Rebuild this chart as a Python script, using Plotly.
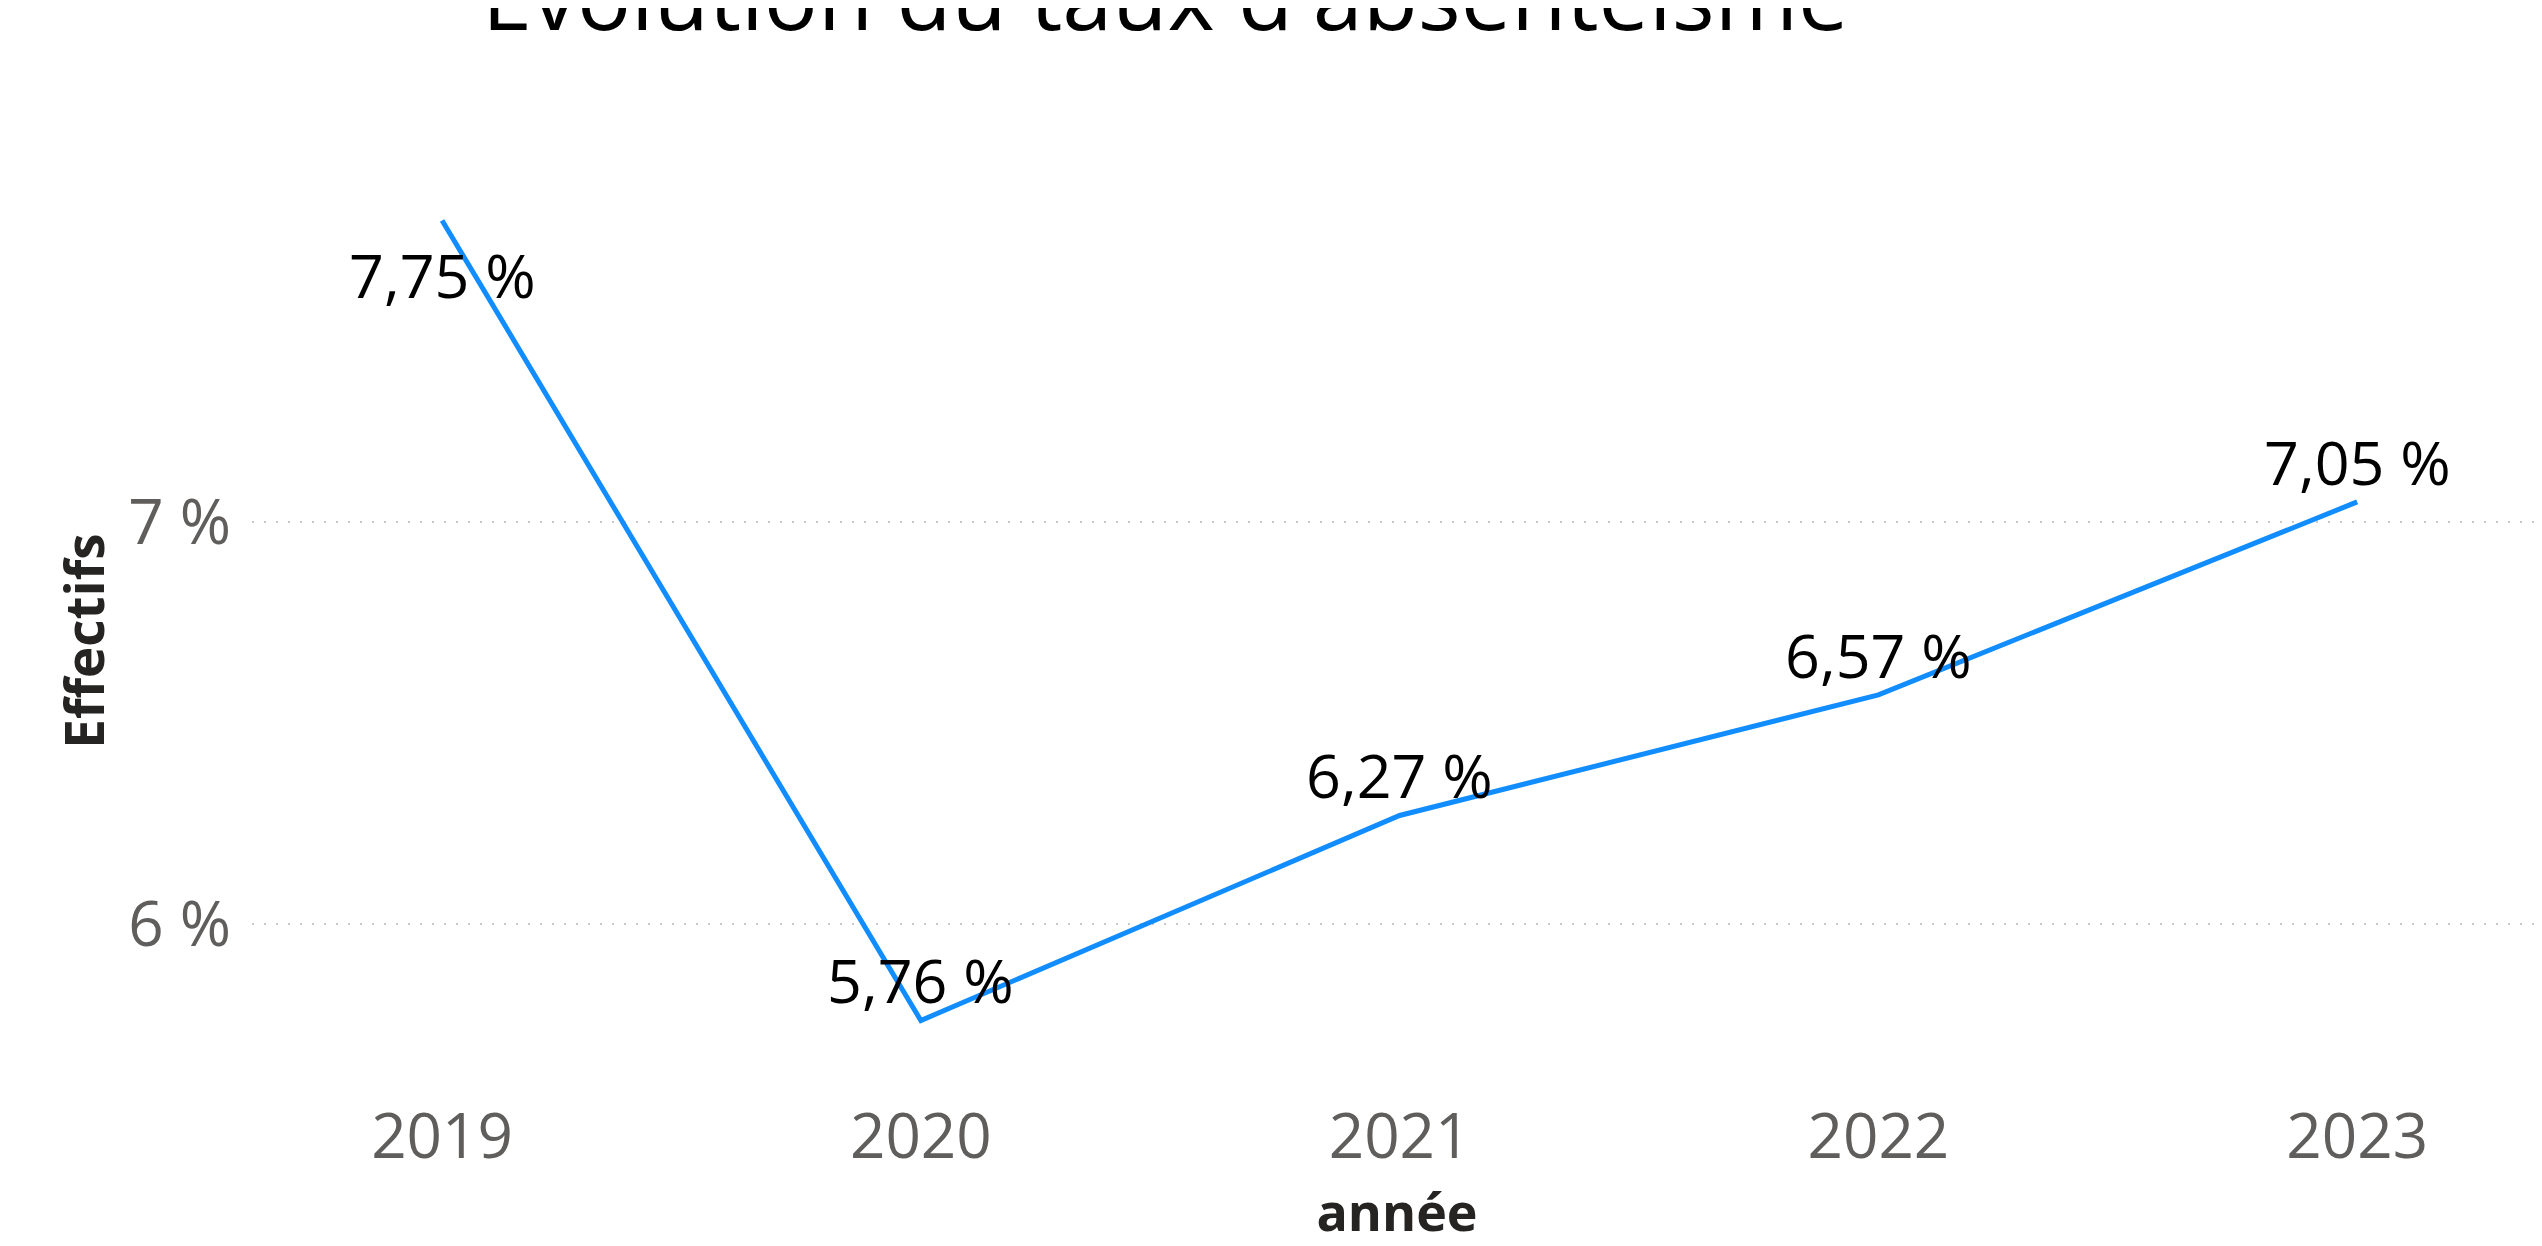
import plotly.graph_objects as go

# ---- data ----
years = [2019, 2020, 2021, 2022, 2023]
taux = [7.75, 5.76, 6.27, 6.57, 7.05]
label_side = ["below", "above", "above", "above", "above"]
y_tickvals = [6, 7]
y_ticktext = ["6 %", "7 %"]
title_text = "Évolution du taux d'absentéisme"
x_title = "année"
y_title = "Effectifs"

# page body has an 8px default margin -> figure is offset by 8px
W, H = 2534, 1238
ML, MR, MT, MB = 244, 0, 192, 164
FONT = "Segoe UI, Open Sans, sans-serif"

def fr(v):
    return f"{v:.2f}".replace(".", ",") + " %"

fig = go.Figure()
fig.add_trace(go.Scatter(
    x=years, y=taux, mode="lines",
    line=dict(color="#118DFF", width=5),
    cliponaxis=False, hoverinfo="x+y", showlegend=False,
))

annotations = []
for x, y, side in zip(years, taux, label_side):
    annotations.append(dict(
        x=x, y=y, xref="x", yref="y", text=fr(y), showarrow=False,
        xanchor="center",
        yanchor="bottom" if side == "above" else "top",
        yshift=-3 if side == "above" else -10,
        font=dict(family=FONT, size=61, color="#000000"),
    ))

annotations.append(dict(
    x=(1157 - ML) / (W - ML - MR), y=1, xref="paper", yref="paper",
    text=title_text, showarrow=False, xanchor="center", yanchor="bottom",
    yshift=142, font=dict(family=FONT, size=90, color="#000000"),
))

fig.update_layout(
    width=W, height=H,
    margin=dict(l=ML, r=MR, t=MT, b=MB, pad=0),
    paper_bgcolor="white", plot_bgcolor="white",
    font=dict(family=FONT),
    annotations=annotations,
    xaxis=dict(
        range=[2018.603, 2023.386], tickvals=years,
        ticktext=[str(y) for y in years],
        tickfont=dict(family=FONT, size=62, color="#605E5C"),
        ticklabelstandoff=13,
        showgrid=False, zeroline=False, showline=False, ticks="",
        title=dict(text=x_title, standoff=13,
                   font=dict(family=FONT, size=52, color="#252423", weight="bold")),
    ),
    yaxis=dict(
        range=[5.607, 7.801], tickvals=y_tickvals, ticktext=y_ticktext,
        tickfont=dict(family=FONT, size=62, color="#605E5C"),
        ticklabelstandoff=20,
        showgrid=True, gridcolor="#C8C8C8", gridwidth=2, griddash="2px,10px",
        zeroline=False, showline=False, ticks="",
        title=dict(text=y_title, standoff=6,
                   font=dict(family=FONT, size=53, color="#252423", weight="bold")),
    ),
)

fig.write_html("out.html")
